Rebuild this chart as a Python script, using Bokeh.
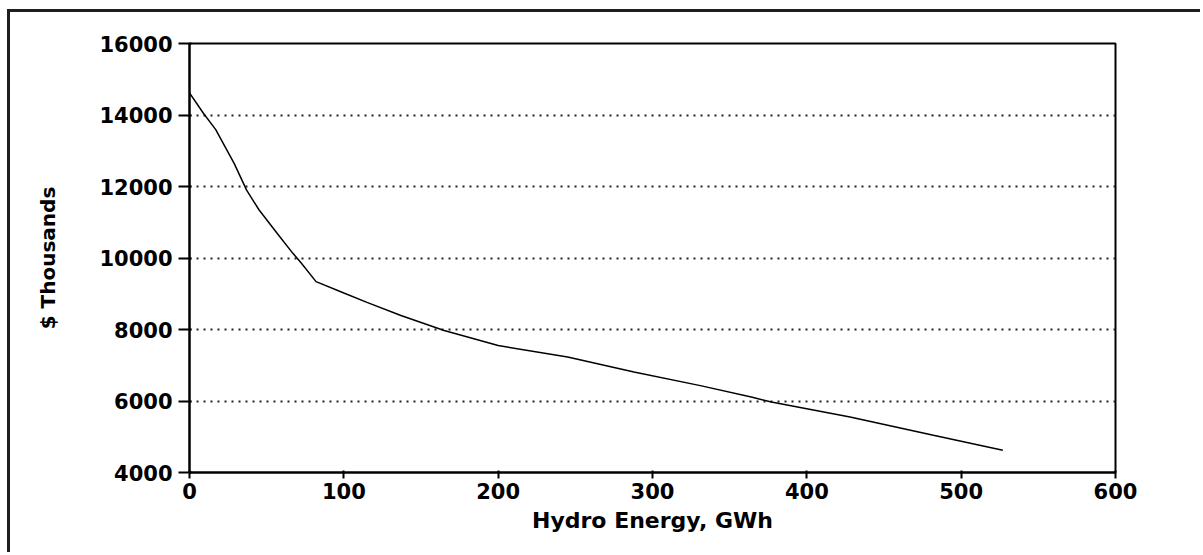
from bokeh.plotting import figure
from bokeh.models import Range1d, FixedTicker
from bokeh.embed import file_html
from bokeh.resources import INLINE

# Data
hydro_gwh = [0, 9, 17, 29, 37, 45, 57, 67, 72, 82, 100, 115, 137, 165, 200, 245, 288, 331, 364, 377, 428, 482, 527]
cost_thousands = [14620, 14050, 13590, 12640, 11900, 11350, 10680, 10130, 9880, 9340, 9020, 8760, 8390,
                  7970, 7550, 7230, 6810, 6430, 6110, 5970, 5550, 5040, 4620]
x_ticks = [0, 100, 200, 300, 400, 500, 600]
y_ticks = [4000, 6000, 8000, 10000, 12000, 14000, 16000]
x_label = "Hydro Energy, GWh"
y_label = "$ Thousands"

FONT = "DejaVu Sans"

p = figure(width=1193, height=543, output_backend="svg", toolbar_location=None,
           x_range=Range1d(0, 600), y_range=Range1d(4000, 16000),
           min_border_left=179, min_border_top=31, min_border_right=88, min_border_bottom=83,
           styles={"margin-left": "7px", "margin-top": "9px",
                   "border-left": "3px solid #1e1e1e", "border-top": "3px solid #1e1e1e"})

p.outline_line_color = "black"
p.outline_line_width = 2
p.background_fill_color = "white"
p.border_fill_color = "white"

p.xgrid.grid_line_color = None
p.ygrid.grid_line_color = "#222222"
p.ygrid.grid_line_dash = "2 5"
p.ygrid.grid_line_width = 2

p.xaxis.ticker = FixedTicker(ticks=x_ticks)
p.yaxis.ticker = FixedTicker(ticks=y_ticks)
p.xaxis.minor_tick_line_color = None
p.yaxis.minor_tick_line_color = None

for ax in (p.xaxis, p.yaxis):
    ax.axis_line_color = "black"
    ax.axis_line_width = 2
    ax.major_tick_line_color = "black"
    ax.major_tick_line_width = 2
    ax.major_label_text_font = FONT
    ax.major_label_text_font_size = "21px"
    ax.major_label_text_font_style = "bold"
    ax.major_label_text_color = "black"
    ax.axis_label_text_font = FONT
    ax.axis_label_text_font_style = "bold"
    ax.axis_label_text_color = "black"

p.xaxis.axis_label_text_font_size = "22px"
p.yaxis.axis_label_text_font_size = "20px"

p.xaxis.major_tick_out = 6
p.xaxis.major_tick_in = 2
p.xaxis.major_label_standoff = 4
p.xaxis.axis_label = x_label
p.xaxis.axis_label_standoff = 6

p.yaxis.major_tick_out = 11
p.yaxis.major_tick_in = 2
p.yaxis.major_label_standoff = 6
p.yaxis.axis_label = y_label
p.yaxis.axis_label_standoff = 36

p.line(hydro_gwh, cost_thousands, line_color="black", line_width=1.5)

open("out.html", "w").write(file_html(p, INLINE))
